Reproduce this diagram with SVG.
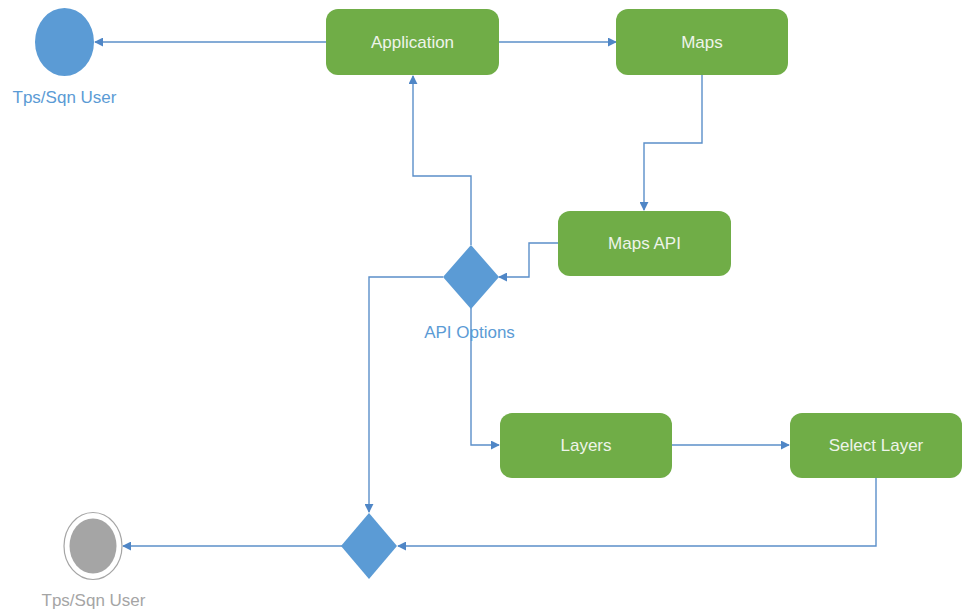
<svg xmlns="http://www.w3.org/2000/svg" width="963" height="614" viewBox="0 0 963 614">
  <defs>
    <marker id="arrow" viewBox="0 0 10 10" refX="9" refY="5" markerWidth="9" markerHeight="9" markerUnits="userSpaceOnUse" orient="auto">
      <path d="M0,0 L10,5 L0,10 Z" fill="#4f86c6"/>
    </marker>
    <style>
      .box { fill: #70ad47; }
      .box-text { font-family: "Liberation Sans", Arial, sans-serif; font-size: 17px; fill: #eef4ea; text-anchor: middle; }
      .decision { fill: #5b9bd5; }
      .label-blue { font-family: "Liberation Sans", Arial, sans-serif; font-size: 17px; fill: #5b9bd5; text-anchor: middle; }
      .label-gray { font-family: "Liberation Sans", Arial, sans-serif; font-size: 17px; fill: #a5a5a5; text-anchor: middle; }
      .link { fill: none; stroke: #5b8fc9; stroke-width: 1.4; marker-end: url(#arrow); }
    </style>
  </defs>
  <rect width="963" height="614" fill="#ffffff"/>

  <!-- connectors -->
  <g id="connectors">
    <path class="link" d="M326,42 L95,42"/>
    <path class="link" d="M499,42 L616,42"/>
    <path class="link" d="M702,75 L702,143 L644,143 L644,210"/>
    <path class="link" d="M558,243 L529,243 L529,277 L499,277"/>
    <path class="link" d="M471,245 L471,176 L413,176 L413,76"/>
    <path class="link" d="M443,277 L369,277 L369,512"/>
    <path class="link" d="M471,308 L471,445 L499,445"/>
    <path class="link" d="M672,445 L789,445"/>
    <path class="link" d="M876,478 L876,546 L398,546"/>
    <path class="link" d="M342,546 L123,546"/>
  </g>

  <!-- start node -->
  <g id="start">
    <ellipse cx="64.5" cy="42" rx="29.5" ry="34" fill="#5b9bd5"/>
    <text class="label-blue" x="64.5" y="103">Tps/Sqn User</text>
  </g>

  <g id="application">
    <rect class="box" x="326" y="9" width="173" height="66" rx="12"/>
    <text class="box-text" x="412.5" y="48">Application</text>
  </g>

  <g id="maps">
    <rect class="box" x="616" y="9" width="172" height="66" rx="12"/>
    <text class="box-text" x="702" y="48">Maps</text>
  </g>

  <g id="maps-api">
    <rect class="box" x="558" y="211" width="173" height="65" rx="12"/>
    <text class="box-text" x="644.5" y="249">Maps API</text>
  </g>

  <g id="api-options">
    <polygon class="decision" points="471,245 499,277 471,309 443,277"/>
    <text class="label-blue" x="469.5" y="338">API Options</text>
  </g>

  <g id="layers">
    <rect class="box" x="500" y="413" width="172" height="65" rx="12"/>
    <text class="box-text" x="586" y="451">Layers</text>
  </g>

  <g id="select-layer">
    <rect class="box" x="790" y="413" width="172" height="65" rx="12"/>
    <text class="box-text" x="876" y="451">Select Layer</text>
  </g>

  <g id="merge">
    <polygon class="decision" points="369,513 397,546 369,579 341,546"/>
  </g>

  <!-- end node -->
  <g id="end">
    <ellipse cx="93" cy="546" rx="29" ry="33.5" fill="#ffffff" stroke="#a5a5a5" stroke-width="1.2"/>
    <ellipse cx="93" cy="546" rx="23.5" ry="27.5" fill="#a5a5a5"/>
    <text class="label-gray" x="93.5" y="606">Tps/Sqn User</text>
  </g>
</svg>
